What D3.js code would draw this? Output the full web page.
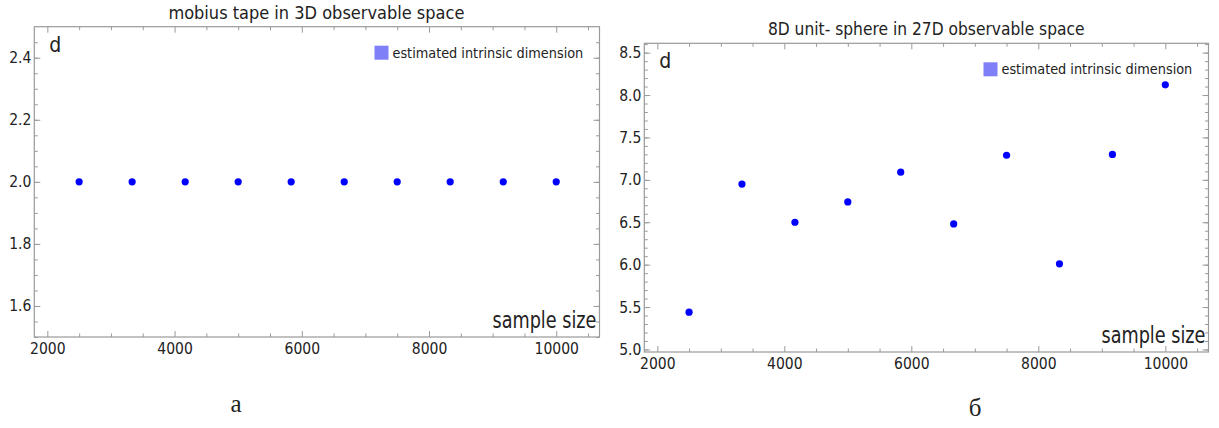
<!DOCTYPE html>
<html>
<head>
<meta charset="utf-8">
<script src="https://cdn.jsdelivr.net/npm/d3@7"></script>
<style>
  body { margin: 0; background: #fff; }
  svg { display: block; }
  text { font-family: "DejaVu Sans", sans-serif; font-stretch: condensed; fill: #222; }
  .caption { font-family: "Liberation Serif", "DejaVu Serif", serif; font-stretch: normal; }
</style>
</head>
<body>
<svg id="chart" width="1219" height="428"></svg>
<script>
// sample sizes used for both experiments
var sampleSizes = [2500, 3333, 4167, 5000, 5833, 6667, 7500, 8333, 9167, 10000];
// estimated intrinsic dimension, mobius tape
var mobiusDims = [2.0, 2.0, 2.0, 2.0, 2.0, 2.0, 2.0, 2.0, 2.0, 2.0];
// estimated intrinsic dimension, 8D unit sphere
var sphereDims = [5.44, 6.95, 6.50, 6.74, 7.09, 6.48, 7.29, 6.01, 7.30, 8.12];

var xTickValues = [2000, 4000, 6000, 8000, 10000];
var mobiusYTicks = [1.6, 1.8, 2.0, 2.2, 2.4];
var sphereYTicks = [5.0, 5.5, 6.0, 6.5, 7.0, 7.5, 8.0, 8.5];

var titles = ['mobius tape in 3D observable space', '8D unit- sphere in 27D observable space'];
var captions = ['а', 'б'];
var legendLabel = 'estimated intrinsic dimension';

var svg = d3.select('#chart');

/*
 * Squeeze a text horizontally so that it is exactly `width` wide
 */
function fitText(sel, x, y, width, anchor) {
  var natural = sel.node().getComputedTextLength();
  var k = Math.min(1, width / natural);
  var x0 = anchor === 'end' ? x - width : (anchor === 'middle' ? x - width / 2 : x);
  sel.attr('x', 0).attr('y', 0)
    .attr('text-anchor', 'start')
    .attr('transform', 'translate(' + x0 + ',' + y + ') scale(' + k + ',1)');
}

var Panel = function(params) {
  var self = this;
  self.params = params;
  self.g = svg.append('g');

  self.x = d3.scaleLinear()
    .domain([1795, 10680])
    .range([params.left, params.right]);
  self.y = d3.scaleLinear()
    .domain(params.yDomain)
    .range([params.bottom, params.top]);

  var frameColor = '#9a9a9a';

  /*
   * Minor ticks first, then major ticks, on all four sides
   */
  var xMinor = d3.range(2000, 10501, 500).filter(function(v) { return v % 2000 !== 0; });
  var yMinor = d3.range(params.yDomain[0], params.yDomain[1], params.yMinorStep)
    .map(function(v) { return +(Math.ceil(v / params.yMinorStep - 1e-6) * params.yMinorStep).toFixed(3); })
    .filter(function(v) { return v >= params.yDomain[0] && v <= params.yDomain[1]; });

  function addAxis(axis, transform) {
    var a = self.g.append('g')
      .attr('transform', transform)
      .call(axis);
    a.select('.domain').remove();
    a.selectAll('.tick line').attr('stroke', frameColor);
    a.selectAll('.tick text')
      .style('font-size', '15.5px')
      .attr('fill', '#2a2a2a');
    return a;
  }

  var h = params.bottom - params.top;
  var w = params.right - params.left;

  // bottom
  addAxis(d3.axisBottom(self.x).tickValues(xMinor).tickSize(-3.5).tickFormat(''),
    'translate(0,' + params.bottom + ')');
  var xAxis = addAxis(d3.axisBottom(self.x).tickValues(xTickValues).tickSize(-6).tickPadding(4)
    .tickFormat(d3.format('d')), 'translate(0,' + params.bottom + ')');
  xAxis.selectAll('.tick text').attr('dy', '0.85em');
  // top
  addAxis(d3.axisTop(self.x).tickValues(xMinor).tickSize(-3.5).tickFormat(''),
    'translate(0,' + params.top + ')');
  addAxis(d3.axisTop(self.x).tickValues(xTickValues).tickSize(-6).tickFormat(''),
    'translate(0,' + params.top + ')');
  // left
  addAxis(d3.axisLeft(self.y).tickValues(yMinor).tickSize(-3.5).tickFormat(''),
    'translate(' + params.left + ',0)');
  addAxis(d3.axisLeft(self.y).tickValues(params.yTicks).tickSize(-6).tickPadding(3)
    .tickFormat(d3.format('.1f')), 'translate(' + params.left + ',0)');
  // right
  addAxis(d3.axisRight(self.y).tickValues(yMinor).tickSize(-3.5).tickFormat(''),
    'translate(' + params.right + ',0)');
  addAxis(d3.axisRight(self.y).tickValues(params.yTicks).tickSize(-6).tickFormat(''),
    'translate(' + params.right + ',0)');

  self.g.append('rect')
    .attr('x', params.left)
    .attr('y', params.top)
    .attr('width', w)
    .attr('height', h)
    .attr('fill', 'none')
    .attr('stroke', frameColor)
    .attr('stroke-width', 1.2);

  /*
   * Points
   */
  self.g.selectAll('.dot')
    .data(params.xs.map(function(v, i) { return { x: v, y: params.ys[i] }; }))
    .enter().append('circle')
    .attr('class', 'dot')
    .attr('cx', function(d) { return self.x(d.x); })
    .attr('cy', function(d) { return self.y(d.y); })
    .attr('r', 3.6)
    .attr('fill', '#0000ff');

  /*
   * Labels
   */
  var title = self.g.append('text')
    .attr('font-size', 18)
    .text(params.title);
  fitText(title, (params.left + params.right) / 2, params.top - 8, params.titleWidth, 'middle');

  self.g.append('text')
    .attr('x', params.left + 15)
    .attr('y', params.top + 25)
    .attr('font-size', 21)
    .text('d');

  self.g.append('rect')
    .attr('x', params.right - 225)
    .attr('y', params.top + 19)
    .attr('width', 14)
    .attr('height', 14)
    .attr('fill', '#7f7ff7');

  var legend = self.g.append('text')
    .attr('font-size', 14.5)
    .text(legendLabel);
  fitText(legend, params.right - 207, params.top + 31, 191, 'start');

  var xLabel = self.g.append('text')
    .attr('font-size', 23)
    .text('sample size');
  fitText(xLabel, params.right - 3, params.bottom - 9, 104, 'end');

  svg.append('text')
    .attr('class', 'caption')
    .attr('x', params.captionX)
    .attr('y', params.captionY)
    .attr('text-anchor', 'middle')
    .attr('font-size', 25)
    .text(params.caption);
};

new Panel({
  left: 34.3, right: 599.5, top: 26.7, bottom: 337,
  yDomain: [1.5, 2.5], yTicks: mobiusYTicks, yMinorStep: 0.05,
  xs: sampleSizes, ys: mobiusDims,
  title: titles[0], titleWidth: 297,
  caption: captions[0], captionX: 236, captionY: 412
});

new Panel({
  left: 644.3, right: 1208.5, top: 43.3, bottom: 352,
  yDomain: [4.97, 8.61], yTicks: sphereYTicks, yMinorStep: 0.1,
  xs: sampleSizes, ys: sphereDims,
  title: titles[1], titleWidth: 317,
  caption: captions[1], captionX: 975, captionY: 416
});
</script>
</body>
</html>
